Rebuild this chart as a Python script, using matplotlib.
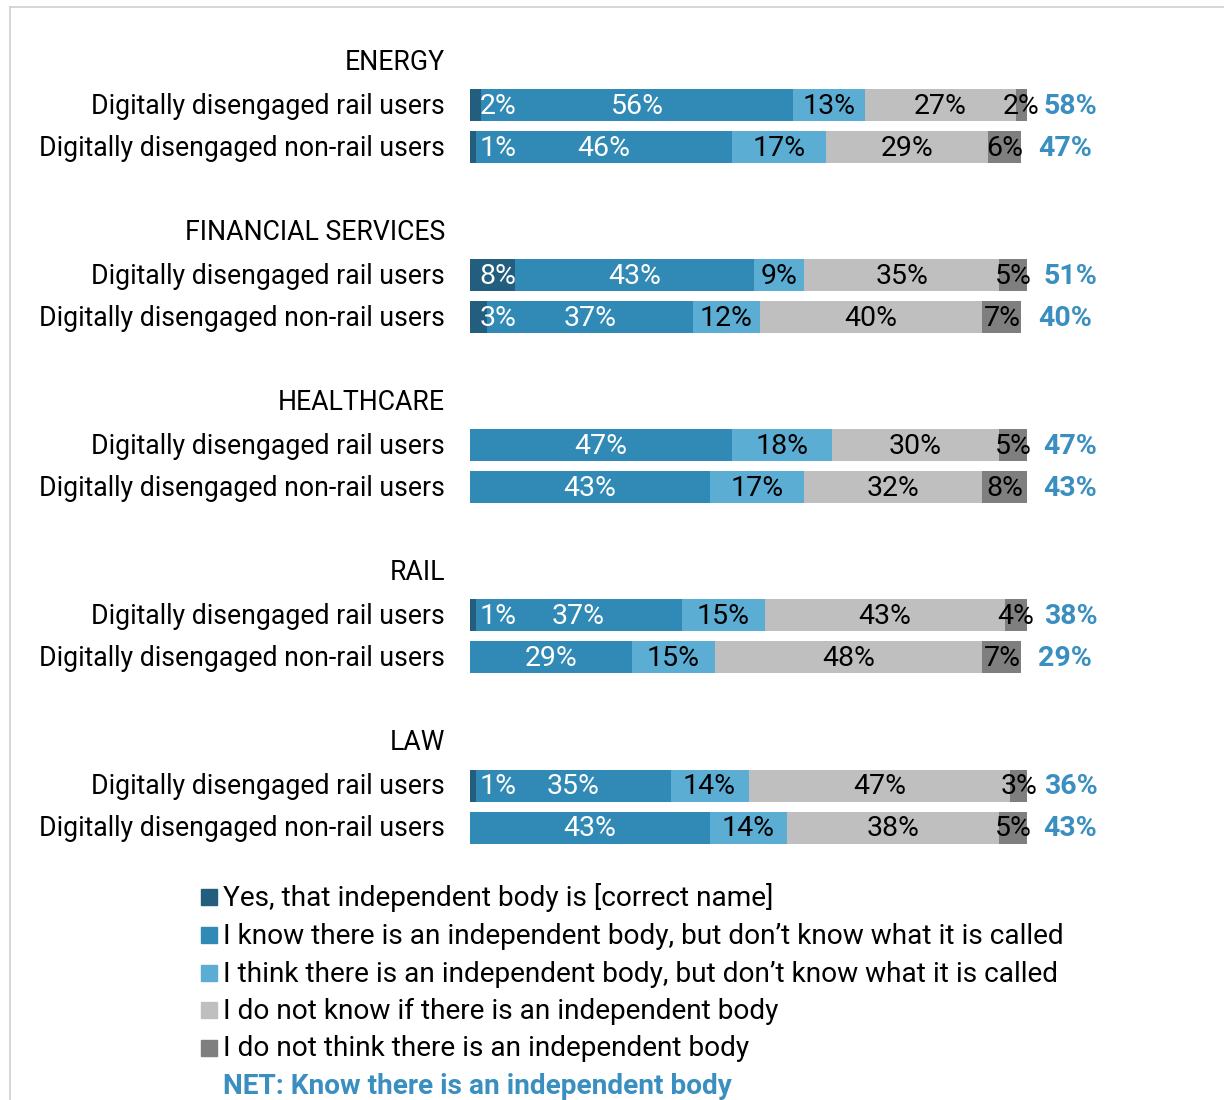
import matplotlib
matplotlib.use("Agg")
import matplotlib.pyplot as plt
from matplotlib.patches import Rectangle
from matplotlib.lines import Line2D

plt.rcParams['font.family'] = ['Roboto', 'DejaVu Sans']

groups = ["ENERGY", "FINANCIAL SERVICES", "HEALTHCARE", "RAIL", "LAW"]
row_labels = ["Digitally disengaged rail users", "Digitally disengaged non-rail users"]

series_names = [
    "Yes, that independent body is [correct name]",
    "I know there is an independent body, but don\u2019t know what it is called",
    "I think there is an independent body, but don\u2019t know what it is called",
    "I do not know if there is an independent body",
    "I do not think there is an independent body",
]
net_name = "NET: Know there is an independent body"

# values per group: [rail, non-rail]
yes_name = [[2, 1], [8, 3], [0, 0], [1, 0], [1, 0]]
know = [[56, 46], [43, 37], [47, 43], [37, 29], [35, 43]]
think = [[13, 17], [9, 12], [18, 17], [15, 15], [14, 14]]
dont_know = [[27, 29], [35, 40], [30, 32], [43, 48], [47, 38]]
not_think = [[2, 6], [5, 7], [5, 8], [4, 7], [3, 5]]
net = [[58, 47], [51, 40], [47, 43], [38, 29], [36, 43]]

colors = ["#245E7E", "#318AB5", "#5BADD4", "#BFBFBF", "#7F7F7F"]
text_colors = ["white", "white", "black", "black", "black"]
net_color = "#3A8FC0"

W, H = 1224, 1100
fig = plt.figure(figsize=(W / 100, H / 100), dpi=100)

# frame lines
fig.add_artist(Line2D([10 / W, 1], [1 - 7 / H, 1 - 7 / H], color="#CFCFCF", lw=1.2, transform=fig.transFigure))
fig.add_artist(Line2D([10 / W, 10 / W], [0, 1 - 7 / H], color="#CFCFCF", lw=1.2, transform=fig.transFigure))

# axes: x 0-100 maps to px 470..1027; y units of 42 px, unit 0 at px 61
px_per_unit = 42.0
top_px, bot_px = 40, 860
ax = fig.add_axes([470 / W, 1 - bot_px / H, 557 / W, (bot_px - top_px) / H])
ax.set_xlim(0, 100)
ax.set_ylim((bot_px - 61) / px_per_unit, (top_px - 61) / px_per_unit)
ax.axis("off")

fs_lab = 19.2
fs_seg = 20.5
fs_net = 20.5
fs_leg = 20.2
group_step = 4.05
bar_h = 32 / px_per_unit
label_x = -25 / 5.57  # right edge of labels at px 445
dy = 1.5 / px_per_unit  # small downward nudge for text

for g, gname in enumerate(groups):
    y0 = g * group_step
    ax.text(label_x, y0 + dy, gname, ha="right", va="center", fontsize=fs_lab, color="black", clip_on=False)
    for r in range(2):
        y = y0 + 1.05 + r
        ax.text(label_x, y + dy, row_labels[r], ha="right", va="center", fontsize=fs_lab, color="black",
                clip_on=False)
        vals = [yes_name[g][r], know[g][r], think[g][r], dont_know[g][r], not_think[g][r]]
        left = 0
        for k, v in enumerate(vals):
            if v > 0:
                ax.barh(y, v, left=left, height=bar_h, color=colors[k], edgecolor="none")
                cx = left + v / 2
                if k == 0:
                    cx = max(cx, left + 5.0)
                ax.text(cx, y + dy, f"{v}%", ha="center", va="center", fontsize=fs_seg, color=text_colors[k])
            left += v
        ax.text(left + 3.0, y + dy, f"{net[g][r]}%", ha="left", va="center", fontsize=fs_net,
                color=net_color, fontweight="bold", clip_on=False)

# legend
leg_y = [897, 935, 973, 1010, 1048]
for k, name in enumerate(series_names):
    yc = leg_y[k]
    fig.add_artist(Rectangle((201 / W, 1 - (yc + 8) / H), 16 / W, 16 / H, color=colors[k],
                             transform=fig.transFigure))
    fig.text(223 / W, 1 - (yc + 1) / H, name, ha="left", va="center", fontsize=fs_leg, color="black")
fig.text(223 / W, 1 - 1087 / H, net_name, ha="left", va="center", fontsize=fs_leg, color=net_color,
         fontweight="bold")

fig.savefig("out.png", dpi=100)
